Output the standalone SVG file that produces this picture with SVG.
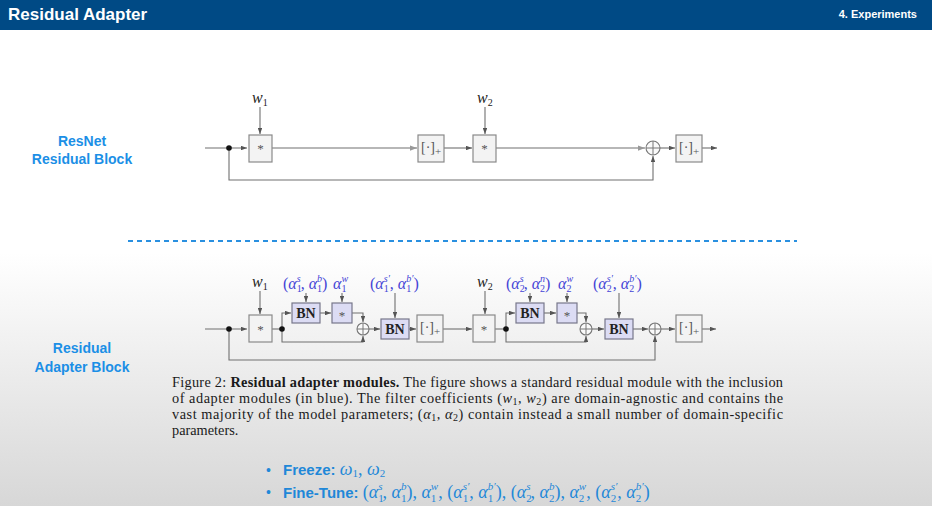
<svg xmlns="http://www.w3.org/2000/svg" width="932" height="506" viewBox="0 0 932 506">
<defs>
<linearGradient id="bg" x1="0" y1="0" x2="0" y2="1">
<stop offset="0" stop-color="#ffffff"/>
<stop offset="0.5" stop-color="#ffffff"/>
<stop offset="1" stop-color="#d7d7d7"/>
</linearGradient>
<marker id="ah" viewBox="0 0 8 6" refX="8" refY="3" markerWidth="6" markerHeight="4.5" orient="auto" markerUnits="userSpaceOnUse">
<path d="M0,0 L8,3 L0,6 z" fill="#555"/>
</marker>
<marker id="ahg" viewBox="0 0 8 6" refX="8" refY="3" markerWidth="7" markerHeight="5.5" orient="auto" markerUnits="userSpaceOnUse">
<path d="M0,0 L8,3 L0,6 z" fill="#999"/>
</marker>
<style>
.bx{fill:#f3f3f3;stroke:#8a8a8a;stroke-width:1.2}
.bn{fill:#dcdcf4;stroke:#77778a;stroke-width:1.2}
.ln{fill:none;stroke:#707070;stroke-width:1.1}
.pc{fill:#fafafa;stroke:#777;stroke-width:1.1}
.st{font-family:"Liberation Serif",serif;font-size:13px;fill:#555;text-anchor:middle}
.rl{font-family:"Liberation Serif",serif;font-size:14px;fill:#555}
.rl .sb{font-size:11px}
.bnt{font-family:"Liberation Serif",serif;font-weight:bold;font-size:14px;fill:#222;text-anchor:middle}
.wl{font-family:"Liberation Serif",serif;font-size:16px;fill:#222}
.al{font-family:"Liberation Serif",serif;font-size:16px;fill:#4444d6}
.i{font-style:italic}
.sb,.sp{font-size:10px}
.side{font-family:"Liberation Sans",Arial,sans-serif;font-weight:bold;font-size:14px;fill:#1b8fe6;text-anchor:middle}
.cap{font-family:"Liberation Serif",serif;font-size:14.3px;fill:#1a1a1a}
.bt{font-family:"Liberation Sans",Arial,sans-serif;font-weight:bold;font-size:15px;fill:#1f88d8}
.bm{font-family:"Liberation Serif",serif;font-size:18px;fill:#1f88d8}
.bm .sb,.bm .sp{font-size:11px}
</style>
</defs>
<rect x="0" y="0" width="932" height="506" fill="url(#bg)"/>
<g id="header">
<rect x="0" y="0" width="932" height="30" fill="#004a85"/>
<text x="8" y="20" font-family="Liberation Sans, Arial, sans-serif" font-weight="bold" font-size="17" fill="#ffffff">Residual Adapter</text>
<text x="917" y="18" font-family="Liberation Sans, Arial, sans-serif" font-weight="bold" font-size="11" fill="#ffffff" text-anchor="end">4. Experiments</text>
</g>
<g id="side-labels">
<text class="side" x="82" y="146">ResNet</text>
<text class="side" x="82" y="164">Residual Block</text>
<text class="side" x="82" y="353">Residual</text>
<text class="side" x="82" y="372">Adapter Block</text>
</g>
<g id="divider">
<path d="M128,241 H797" stroke="#2a90e0" stroke-width="2" stroke-dasharray="5 4" fill="none"/>
</g>

<!-- top diagram connectors -->
<g id="top-connectors" class="ln">
<path d="M205,148 H247" marker-end="url(#ah)"/>
<path d="M260,107 V134" marker-end="url(#ah)"/>
<path d="M272,148 H417" marker-end="url(#ahg)"/>
<path d="M444,148 H472" marker-end="url(#ah)"/>
<path d="M485,107 V134" marker-end="url(#ah)"/>
<path d="M496,148 H645" marker-end="url(#ahg)"/>
<path d="M660,148 H675" marker-end="url(#ah)"/>
<path d="M702,148 H717" marker-end="url(#ah)"/>
<path d="M229,148 V180 H653 V156" marker-end="url(#ah)"/>
</g>
<g id="top-nodes">
<circle cx="229" cy="148" r="2.8" fill="#111"/>
<g id="t-w1"><text class="wl" x="252" y="103"><tspan class="i">w</tspan><tspan class="sb" dy="3">1</tspan></text></g>
<g id="t-conv1"><rect class="bx" x="249" y="135" width="23" height="27"/><text class="st" x="260.5" y="153">*</text></g>
<g id="t-relu1"><rect class="bx" x="418" y="135" width="26" height="27"/><text class="rl" x="421" y="152">[·]<tspan class="sb" dy="3">+</tspan></text></g>
<g id="t-w2"><text class="wl" x="477" y="103"><tspan class="i">w</tspan><tspan class="sb" dy="3">2</tspan></text></g>
<g id="t-conv2"><rect class="bx" x="473" y="135" width="23" height="27"/><text class="st" x="484.5" y="153">*</text></g>
<g id="t-sum"><circle class="pc" cx="653" cy="148" r="7"/><path d="M646,148 H660 M653,141 V155" stroke="#777" stroke-width="1"/></g>
<g id="t-relu2"><rect class="bx" x="676" y="135" width="26" height="27"/><text class="rl" x="679" y="152">[·]<tspan class="sb" dy="3">+</tspan></text></g>
</g>

<!-- bottom diagram connectors -->
<g id="bottom-connectors" class="ln">
<path d="M205,329 H247" marker-end="url(#ah)"/>
<path d="M260,291 V314" marker-end="url(#ah)"/>
<path d="M272,329 H282"/>
<path d="M282,329 V313 H291" marker-end="url(#ah)"/>
<path d="M306,293 V302" marker-end="url(#ah)"/>
<path d="M320,313 H331" marker-end="url(#ah)"/>
<path d="M342,293 V302" marker-end="url(#ah)"/>
<path d="M352,313 H363 V322" marker-end="url(#ah)"/>
<path d="M282,329 V342 H363 V336" marker-end="url(#ah)"/>
<path d="M369,329 H380" marker-end="url(#ah)"/>
<path d="M395,293 V318" marker-end="url(#ah)"/>
<path d="M409,329 H416" marker-end="url(#ah)"/>
<path d="M443,329 H472" marker-end="url(#ah)"/>
<path d="M485,291 V314" marker-end="url(#ah)"/>
<path d="M495,329 H506"/>
<path d="M506,329 V313 H515" marker-end="url(#ah)"/>
<path d="M530,293 V302" marker-end="url(#ah)"/>
<path d="M544,313 H556" marker-end="url(#ah)"/>
<path d="M567,293 V302" marker-end="url(#ah)"/>
<path d="M577,313 H586 V322" marker-end="url(#ah)"/>
<path d="M506,329 V342 H586 V336" marker-end="url(#ah)"/>
<path d="M592,329 H604" marker-end="url(#ah)"/>
<path d="M619,293 V318" marker-end="url(#ah)"/>
<path d="M633,329 H648" marker-end="url(#ah)"/>
<path d="M661,329 H675" marker-end="url(#ah)"/>
<path d="M702,329 H716" marker-end="url(#ah)"/>
<path d="M229,329 V360 H655 V336" marker-end="url(#ah)"/>
</g>
<g id="bottom-nodes">
<circle cx="229" cy="329" r="2.8" fill="#111"/>
<circle cx="282" cy="329" r="2.8" fill="#111"/>
<circle cx="506" cy="329" r="2.8" fill="#111"/>
<g id="b-w1"><text class="wl" x="252" y="287"><tspan class="i">w</tspan><tspan class="sb" dy="3">1</tspan></text></g>
<g id="b-conv1"><rect class="bx" x="249" y="315" width="23" height="27"/><text class="st" x="260.5" y="334">*</text></g>
<g id="b-a1sb"><text class="al" x="283" y="289">(<tspan class="i">α</tspan><tspan class="sb" dy="3">1</tspan><tspan class="sp i" dx="-5" dy="-10">s</tspan><tspan dy="7">, </tspan><tspan class="i">α</tspan><tspan class="sb" dy="3">1</tspan><tspan class="sp i" dx="-5" dy="-10">b</tspan><tspan dy="7">)</tspan></text></g>
<g id="b-bn1"><rect class="bn" x="292" y="303" width="28" height="20"/><text class="bnt" x="306" y="318">BN</text></g>
<g id="b-a1w"><text class="al" x="333" y="289"><tspan class="i">α</tspan><tspan class="sb" dy="3">1</tspan><tspan class="sp i" dx="-5" dy="-10">w</tspan></text></g>
<g id="b-ad1"><rect class="bn" x="332" y="303" width="20" height="20"/><text class="st" x="342" y="320" fill="#333">*</text></g>
<g id="b-sum1"><circle class="pc" cx="363" cy="329" r="6"/><path d="M357,329 H369 M363,323 V335" stroke="#777" stroke-width="1"/></g>
<g id="b-a1p"><text class="al" x="370" y="289">(<tspan class="i">α</tspan><tspan class="sb" dy="3">1</tspan><tspan class="sp i" dx="-5" dy="-10">s′</tspan><tspan dy="7">, </tspan><tspan class="i">α</tspan><tspan class="sb" dy="3">1</tspan><tspan class="sp i" dx="-5" dy="-10">b′</tspan><tspan dy="7">)</tspan></text></g>
<g id="b-bn2"><rect class="bn" x="381" y="319" width="28" height="20"/><text class="bnt" x="395" y="334">BN</text></g>
<g id="b-relu1"><rect class="bx" x="417" y="315" width="26" height="27"/><text class="rl" x="420" y="332">[·]<tspan class="sb" dy="3">+</tspan></text></g>
<g id="b-w2"><text class="wl" x="477" y="287"><tspan class="i">w</tspan><tspan class="sb" dy="3">2</tspan></text></g>
<g id="b-conv2"><rect class="bx" x="473" y="315" width="22" height="27"/><text class="st" x="484" y="334">*</text></g>
<g id="b-a2sb"><text class="al" x="506" y="289">(<tspan class="i">α</tspan><tspan class="sb" dy="3">2</tspan><tspan class="sp i" dx="-5" dy="-10">s</tspan><tspan dy="7">, </tspan><tspan class="i">α</tspan><tspan class="sb" dy="3">2</tspan><tspan class="sp i" dx="-5" dy="-10">n</tspan><tspan dy="7">)</tspan></text></g>
<g id="b-bn3"><rect class="bn" x="516" y="303" width="28" height="20"/><text class="bnt" x="530" y="318">BN</text></g>
<g id="b-a2w"><text class="al" x="558" y="289"><tspan class="i">α</tspan><tspan class="sb" dy="3">2</tspan><tspan class="sp i" dx="-5" dy="-10">w</tspan></text></g>
<g id="b-ad2"><rect class="bn" x="557" y="303" width="20" height="20"/><text class="st" x="567" y="320" fill="#333">*</text></g>
<g id="b-sum2"><circle class="pc" cx="586" cy="329" r="6"/><path d="M580,329 H592 M586,323 V335" stroke="#777" stroke-width="1"/></g>
<g id="b-a2p"><text class="al" x="593" y="289">(<tspan class="i">α</tspan><tspan class="sb" dy="3">2</tspan><tspan class="sp i" dx="-5" dy="-10">s′</tspan><tspan dy="7">, </tspan><tspan class="i">α</tspan><tspan class="sb" dy="3">2</tspan><tspan class="sp i" dx="-5" dy="-10">b′</tspan><tspan dy="7">)</tspan></text></g>
<g id="b-bn4"><rect class="bn" x="605" y="319" width="28" height="20"/><text class="bnt" x="619" y="334">BN</text></g>
<g id="b-sum3"><circle class="pc" cx="655" cy="329" r="6"/><path d="M649,329 H661 M655,323 V335" stroke="#777" stroke-width="1"/></g>
<g id="b-relu2"><rect class="bx" x="676" y="315" width="26" height="27"/><text class="rl" x="679" y="332">[·]<tspan class="sb" dy="3">+</tspan></text></g>
</g>

<g id="caption">
<text class="cap" x="172" y="387" textLength="611" lengthAdjust="spacing">Figure 2: <tspan font-weight="bold">Residual adapter modules.</tspan> The figure shows a standard residual module with the inclusion</text>
<text class="cap" x="172" y="403" textLength="611" lengthAdjust="spacing">of adapter modules (in blue). The filter coefficients (<tspan class="i">w</tspan><tspan font-size="10" dy="2">1</tspan><tspan dy="-2">, </tspan><tspan class="i">w</tspan><tspan font-size="10" dy="2">2</tspan><tspan dy="-2">) are domain-agnostic and contains the</tspan></text>
<text class="cap" x="172" y="419" textLength="611" lengthAdjust="spacing">vast majority of the model parameters; (<tspan class="i">α</tspan><tspan font-size="10" dy="2">1</tspan><tspan dy="-2">, </tspan><tspan class="i">α</tspan><tspan font-size="10" dy="2">2</tspan><tspan dy="-2">) contain instead a small number of domain-specific</tspan></text>
<text class="cap" x="172" y="435">parameters.</text>
</g>

<g id="bullets">
<text x="266" y="475" font-family="Liberation Sans, Arial, sans-serif" font-size="14" fill="#1f88d8">•</text>
<text x="283" y="475"><tspan class="bt">Freeze: </tspan><tspan class="bm"><tspan class="i">ω</tspan><tspan class="sb" dy="2">1</tspan><tspan dy="-2">, </tspan><tspan class="i">ω</tspan><tspan class="sb" dy="2">2</tspan></tspan></text>
<text x="266" y="497" font-family="Liberation Sans, Arial, sans-serif" font-size="14" fill="#1f88d8">•</text>
<text x="283" y="498"><tspan class="bt">Fine-Tune: </tspan><tspan class="bm">(<tspan class="i">α</tspan><tspan class="sb" dy="4">1</tspan><tspan class="sp i" dx="-5.5" dy="-12">s</tspan><tspan dy="8">, </tspan><tspan class="i">α</tspan><tspan class="sb" dy="4">1</tspan><tspan class="sp i" dx="-5.5" dy="-12">b</tspan><tspan dy="8">), </tspan><tspan class="i">α</tspan><tspan class="sb" dy="4">1</tspan><tspan class="sp i" dx="-5.5" dy="-12">w</tspan><tspan dy="8">, (</tspan><tspan class="i">α</tspan><tspan class="sb" dy="4">1</tspan><tspan class="sp i" dx="-5.5" dy="-12">s′</tspan><tspan dy="8">, </tspan><tspan class="i">α</tspan><tspan class="sb" dy="4">1</tspan><tspan class="sp i" dx="-5.5" dy="-12">b′</tspan><tspan dy="8">), (</tspan><tspan class="i">α</tspan><tspan class="sb" dy="4">2</tspan><tspan class="sp i" dx="-5.5" dy="-12">s</tspan><tspan dy="8">, </tspan><tspan class="i">α</tspan><tspan class="sb" dy="4">2</tspan><tspan class="sp i" dx="-5.5" dy="-12">b</tspan><tspan dy="8">), </tspan><tspan class="i">α</tspan><tspan class="sb" dy="4">2</tspan><tspan class="sp i" dx="-5.5" dy="-12">w</tspan><tspan dy="8">, (</tspan><tspan class="i">α</tspan><tspan class="sb" dy="4">2</tspan><tspan class="sp i" dx="-5.5" dy="-12">s′</tspan><tspan dy="8">, </tspan><tspan class="i">α</tspan><tspan class="sb" dy="4">2</tspan><tspan class="sp i" dx="-5.5" dy="-12">b′</tspan><tspan dy="8">)</tspan></tspan></text>
</g>
</svg>
